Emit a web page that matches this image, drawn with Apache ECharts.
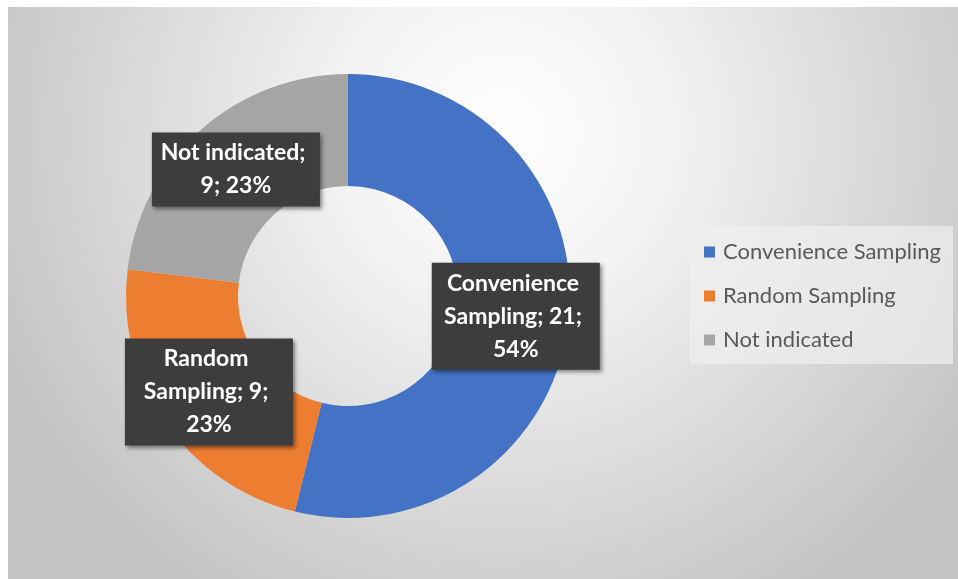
<!DOCTYPE html>
<html>
<head>
<meta charset="utf-8">
<script src="https://cdn.jsdelivr.net/npm/echarts@6/dist/echarts.min.js"></script>
<style>
  html, body { margin: 0; padding: 0; background: #fff; }
  #chart { position: absolute; left: 8px; top: 7px; width: 950px; height: 572px; }
</style>
</head>
<body>
<div id="chart"></div>
<script>
var categories = ['Convenience Sampling', 'Random Sampling', 'Not indicated']
var counts = [21, 9, 9]
var colors = ['#4472C4', '#ED7D31', '#A5A5A5']

var chart = echarts.init(document.getElementById('chart'))

var pieData = categories.map(function (name, i) {
  return { name: name, value: counts[i], itemStyle: { color: colors[i] } }
})

chart.setOption({
  animation: false,
  backgroundColor: {
    type: 'radial',
    x: 0.52,
    y: 0.22,
    r: 0.95,
    colorStops: [
      { offset: 0, color: '#ffffff' },
      { offset: 0.3, color: '#f3f3f3' },
      { offset: 1, color: '#c4c4c4' }
    ]
  },
  legend: {
    orient: 'vertical',
    left: 682,
    top: 219,
    icon: 'rect',
    itemWidth: 11,
    itemHeight: 11,
    itemGap: 22,
    padding: [15, 12, 13, 14],
    backgroundColor: 'rgba(240,240,240,0.7)',
    textStyle: {
      color: '#595959',
      fontSize: 22,
      fontFamily: 'Lato',
      padding: [0, 0, 0, 3]
    },
    data: categories
  },
  series: [{
    type: 'pie',
    center: [340, 289],
    radius: [110, 222],
    startAngle: 90,
    clockwise: true,
    silent: true,
    data: pieData,
    label: {
      show: true,
      position: 'inside',
      formatter: function (p) {
        return p.name + '; ' + p.value + '; ' + Math.round(p.percent) + '%'
      },
      color: '#ffffff',
      fontFamily: 'Lato',
      fontWeight: 'bold',
      fontSize: 23,
      lineHeight: 33,
      width: 152,
      overflow: 'break',
      align: 'center',
      backgroundColor: '#3d3d3d',
      padding: [4, 8],
      shadowColor: 'rgba(0,0,0,0.45)',
      shadowBlur: 4,
      shadowOffsetX: 2,
      shadowOffsetY: 2
    },
    labelLine: { show: false }
  }]
})
</script>
</body>
</html>
